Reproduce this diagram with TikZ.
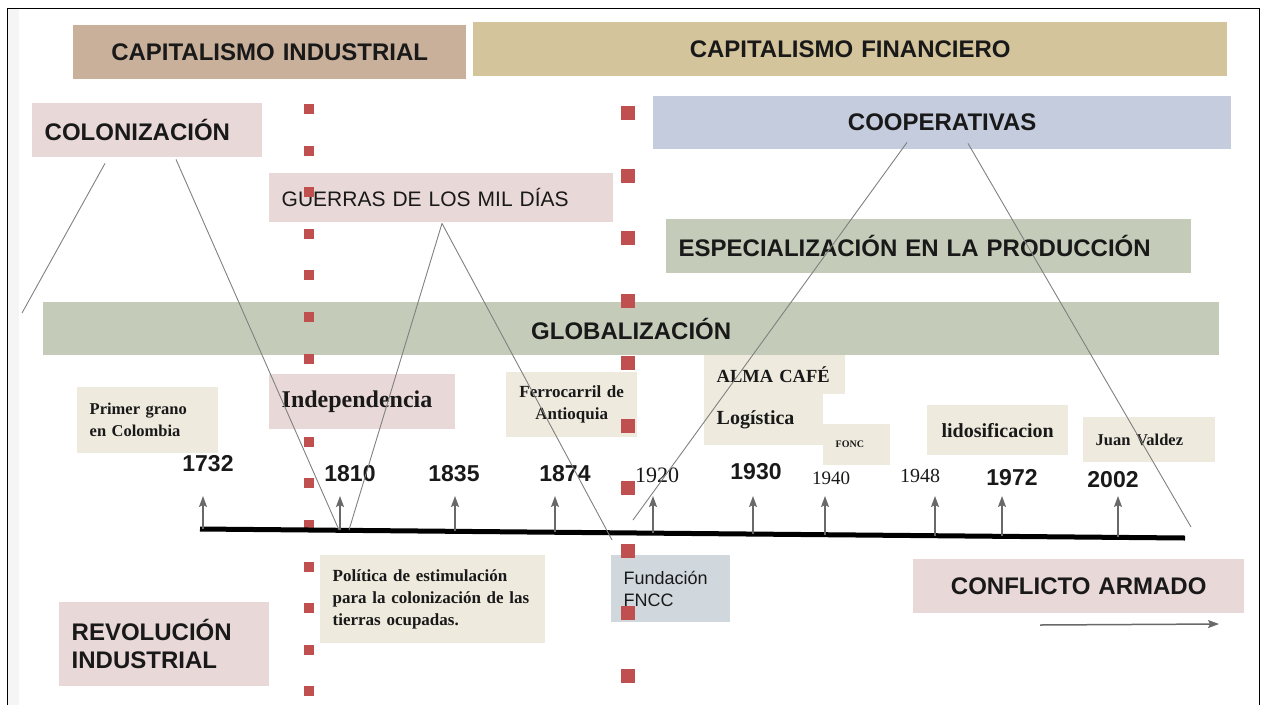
\documentclass[tikz,border=0pt]{standalone}
\usepackage{fontspec}
\setmainfont{Liberation Serif}
\setsansfont{Liberation Sans}
\usetikzlibrary{arrows.meta}

\definecolor{ink}{RGB}{25,25,25}
\definecolor{capind}{RGB}{201,176,154}
\definecolor{capfin}{RGB}{212,196,156}
\definecolor{rosa}{RGB}{233,216,216}
\definecolor{azul}{RGB}{196,204,222}
\definecolor{verde}{RGB}{196,204,185}
\definecolor{crema}{RGB}{238,234,222}
\definecolor{gris}{RGB}{208,216,222}
\definecolor{rojo}{RGB}{192,80,80}
\definecolor{linea}{RGB}{128,128,128}
\definecolor{flecha}{RGB}{105,105,105}

\begin{document}
\begin{tikzpicture}[x=1pt,y=-1pt,>={Stealth[length=11pt,width=8pt,inset=2pt]},
  box/.style={fill=#1,anchor=north west,inner xsep=12.5pt,inner ysep=0pt,align=left,text=ink},
  big/.style={font=\sffamily\bfseries\fontsize{24}{28}\selectfont},
  thin/.style={font=\sffamily\fontsize{#1}{22}\selectfont},
  serif/.style={font=\rmfamily\bfseries\fontsize{#1}{22}\selectfont},
  yr/.style={text=ink,inner sep=0pt,font=\sffamily\bfseries\fontsize{23}{26}\selectfont},
  yrs/.style={text=ink,inner sep=0pt,font=\rmfamily\fontsize{#1}{24}\selectfont},
  link/.style={draw=linea,line width=0.9pt},
  tick/.style={draw=flecha,line width=1.5pt,->},
  axis/.style={draw=black,line width=5pt}]
  \useasboundingbox (0,0) rectangle (1261,705);
  \fill[black!4] (8,9) rectangle (19,705);
  \draw[line width=1pt] (7,705) -- (7,8) -- (1259,8) -- (1259,705);

  \node[box=capind,big,text width=368pt,minimum height=54pt,align=center] (capind) at (73,25) {CAPITALISMO INDUSTRIAL};
  \node[box=capfin,big,text width=729pt,minimum height=54pt,align=center] (capfin) at (473,22) {CAPITALISMO FINANCIERO};
  \node[box=rosa,big,text width=205pt,minimum height=54pt] (colon) at (32,103) {COLONIZACIÓN};
  \node[box=azul,big,text width=553pt,minimum height=53pt,align=center] (coop) at (653,96) {COOPERATIVAS};
  \node[box=rosa,thin=21,text width=319pt,minimum height=49pt] (guerras) at (269,173) {GUERRAS DE LOS MIL DÍAS};
  \node[box=verde,big,text width=500pt,minimum height=54pt] (espec) at (666,219) {ESPECIALIZACIÓN EN LA PRODUCCIÓN};
  \node[box=verde,big,text width=1151pt,minimum height=53pt,align=center] (glob) at (43,302) {GLOBALIZACIÓN};

  \node[box=crema,serif=16.5,text width=116pt,minimum height=66pt] (primer) at (77,387) {Primer grano\\en Colombia};
  \node[box=crema,serif=17,text width=106pt,minimum height=65pt,align=center] (ferro) at (506,372) {Ferrocarril de\\Antioquia};
  \node[box=crema,serif=18.5,text width=116pt,minimum height=39pt] (alma) at (704,355) {ALMA CAFÉ};
  \node[box=crema,serif=20,text width=94pt,minimum height=51pt] (logis) at (704,394) {Logística};
  \node[box=crema,serif=10,text width=42pt,minimum height=41pt] (fonc) at (823,424) {FONC};
  \node[box=crema,serif=20,text width=116pt,minimum height=50pt,align=center] (lidos) at (927,405) {lidosificacion};
  \node[box=crema,serif=16.5,text width=107pt,minimum height=45pt] (juan) at (1083,417) {Juan Valdez};

  \node[box=crema,serif=17,text width=200pt,minimum height=88pt] (politica) at (320,555) {Política de estimulación\\para la colonización de las\\tierras ocupadas.};
  \node[box=gris,thin=18,text width=94pt,minimum height=67pt] (fund) at (611,555) {Fundación\\FNCC};
  \node[box=rosa,big,text width=185pt,minimum height=84pt] (revol) at (59,602) {REVOLUCIÓN\\INDUSTRIAL};
  \node[box=rosa,big,text width=306pt,minimum height=54pt,align=center] (conflicto) at (913,559) {CONFLICTO ARMADO};

  % separadores de periodo
  \foreach \i in {0,...,14}
    \fill[rojo] (304,{104+41.6*\i}) rectangle ++(10,10);
  \foreach \i in {0,...,9}
    \fill[rojo] (621,{106+62.5*\i}) rectangle ++(14,14);

  \node[box=rosa,serif=24,text width=161pt,minimum height=55pt] (indep) at (269,374) {Independencia};

  \node[yr] (y1732) at (208,464) {1732};
  \node[yr] (y1810) at (350,474) {1810};
  \node[yr] (y1835) at (454,474) {1835};
  \node[yr] (y1874) at (565,474) {1874};
  \node[yrs=22] (y1920) at (657,475) {1920};
  \node[yr] (y1930) at (756,472) {1930};
  \node[yrs=19] (y1940) at (831,478) {1940};
  \node[yrs=20] (y1948) at (920,476) {1948};
  \node[yr] (y1972) at (1012,478) {1972};
  \node[yr] (y2002) at (1113,480) {2002};

  \coordinate (tlA) at (200,529);
  \coordinate (tlB) at (1185,538);
  \draw[axis] (tlA) -- (tlB);
  \foreach \n/\x in {1732/203,1810/340,1835/455,1874/555,1920/653,1930/753,1940/825,1948/935,1972/1002,2002/1118} {
    \coordinate (b\n) at (\x,{529+(\x-200)*0.00914});
    \coordinate (t\n) at (\x,496);
    \draw[tick] (b\n) -- (t\n);
  }

  \coordinate (caA) at (1040,625);
  \coordinate (caB) at (1219,624);
  \draw[tick] (caA) -- (caB);

  \coordinate (colL) at (22,313);
  \coordinate (colR) at (339,530);
  \coordinate (guL) at (349,530);
  \coordinate (guR) at (612,540);
  \coordinate (coL) at (633,520);
  \coordinate (coR) at (1191,527);
  \draw[link] ([xshift=73pt,yshift=-6pt]colon.south west) -- (colL);
  \draw[link] ([xshift=144pt,yshift=-2pt]colon.south west) -- (colR);
  \draw[link] ([xshift=173pt,yshift=-1pt]guerras.south west) -- (guL);
  \draw[link] ([xshift=173pt,yshift=-1pt]guerras.south west) -- (guR);
  \draw[link] ([xshift=254pt,yshift=7pt]coop.south west) -- (coL);
  \draw[link] ([xshift=315pt,yshift=6pt]coop.south west) -- (coR);
\end{tikzpicture}
\end{document}
